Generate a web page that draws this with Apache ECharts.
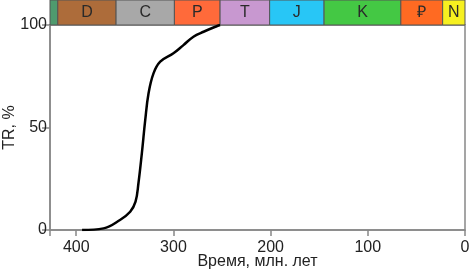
<!DOCTYPE html>
<html><head><meta charset="utf-8">
<script src="https://cdn.jsdelivr.net/npm/echarts@6/dist/echarts.min.js"></script>
<style>html,body{margin:0;padding:0;background:#fff}#c{width:474px;height:278px}</style>
</head><body><div id="c"></div>
<script>
const ages = [394, 372, 355, 344.5, 339, 336, 332.5, 329, 325.6, 320.5, 313.6, 300, 289.7, 279.4, 269, 255, 252];
const trValues = [0, 0.8, 4.9, 8.9, 13.8, 22.8, 37.4, 53.7, 66.7, 76.4, 82.1, 86.2, 90.2, 94.3, 96.7, 99.5, 100];
const periodNames = ['', 'D', 'C', 'P', 'T', 'J', 'K', '₽', 'N'];
const periodStart = [427, 419, 359, 299, 252, 201, 145, 66, 23];
const periodEnd = [419, 359, 299, 252, 201, 145, 66, 23, 0];
const periodColors = ['#4f9a6e', '#ad6c3a', '#a8a8a8', '#ff6a3a', '#c898d0', '#28c6f6', '#44c844', '#ff6a22', '#f6f020'];
const xTicks = [0, 100, 200, 300, 400];
const yTicks = [0, 50, 100];

const chart = echarts.init(document.getElementById('c'));
const font = 'Liberation Sans, Arial, sans-serif';
chart.setOption({
  animation: false,
  grid: [
    {left: 50, right: 9, top: 25, bottom: 48, show: true, borderColor: '#888', borderWidth: 1.5, outerBoundsMode: 'none', containLabel: false},
    {left: 50, right: 9, top: 0, height: 25, outerBoundsMode: 'none', containLabel: false}
  ],
  xAxis: [
    {gridIndex: 0, type: 'value', min: 0, max: 427, inverse: true, interval: 100,
     name: 'Время, млн. лет', nameLocation: 'middle', nameGap: 24, nameMoveOverlap: false,
     nameTextStyle: {fontFamily: font, fontSize: 16, color: '#222'},
     axisLine: {show: true, onZero: false, lineStyle: {color: '#888', width: 1.5}},
     axisTick: {show: true, length: 6, lineStyle: {color: '#888', width: 1.5}},
     axisLabel: {fontFamily: font, fontSize: 16, color: '#222', margin: 10, hideOverlap: false,
       formatter: v => xTicks.includes(v) ? String(v) : ''},
     splitLine: {show: false}},
    {gridIndex: 1, type: 'value', min: 0, max: 427, inverse: true, show: false}
  ],
  yAxis: [
    {gridIndex: 0, type: 'value', min: 0, max: 100, interval: 50,
     name: 'TR, %', nameLocation: 'middle', nameGap: 32, nameRotate: 90, nameMoveOverlap: false,
     nameTextStyle: {fontFamily: font, fontSize: 16, color: '#222'},
     axisLine: {show: true, onZero: false, lineStyle: {color: '#888', width: 1.5}},
     axisTick: {show: true, length: 8, lineStyle: {color: '#888', width: 1.5}},
     axisLabel: {fontFamily: font, fontSize: 16, color: '#222', margin: 3,
       formatter: v => yTicks.includes(v) ? String(v) : ''},
     splitLine: {show: false}},
    {gridIndex: 1, type: 'value', min: 0, max: 1, show: false}
  ],
  series: [
    {type: 'line', xAxisIndex: 0, yAxisIndex: 0, smooth: 0.4, symbol: 'none',
     lineStyle: {color: '#000', width: 2.5},
     data: ages.map((a, i) => [a, trValues[i]])},
    {type: 'custom', xAxisIndex: 1, yAxisIndex: 1,
     data: periodNames.map((n, i) => [periodStart[i], periodEnd[i], i]),
     renderItem: (params, api) => {
       const i = api.value(2);
       const p0 = api.coord([api.value(0), 1]);
       const p1 = api.coord([api.value(1), 0]);
       return {
         type: 'rect',
         shape: {x: p0[0], y: p0[1], width: p1[0] - p0[0], height: p1[1] - p0[1]},
         style: {fill: periodColors[i], stroke: '#555', lineWidth: 1},
         textContent: {style: {text: periodNames[i], fill: '#2a2a2a', fontSize: 16, fontFamily: font}},
         textConfig: {position: 'inside'}
       };
     }}
  ]
});
</script></body></html>
